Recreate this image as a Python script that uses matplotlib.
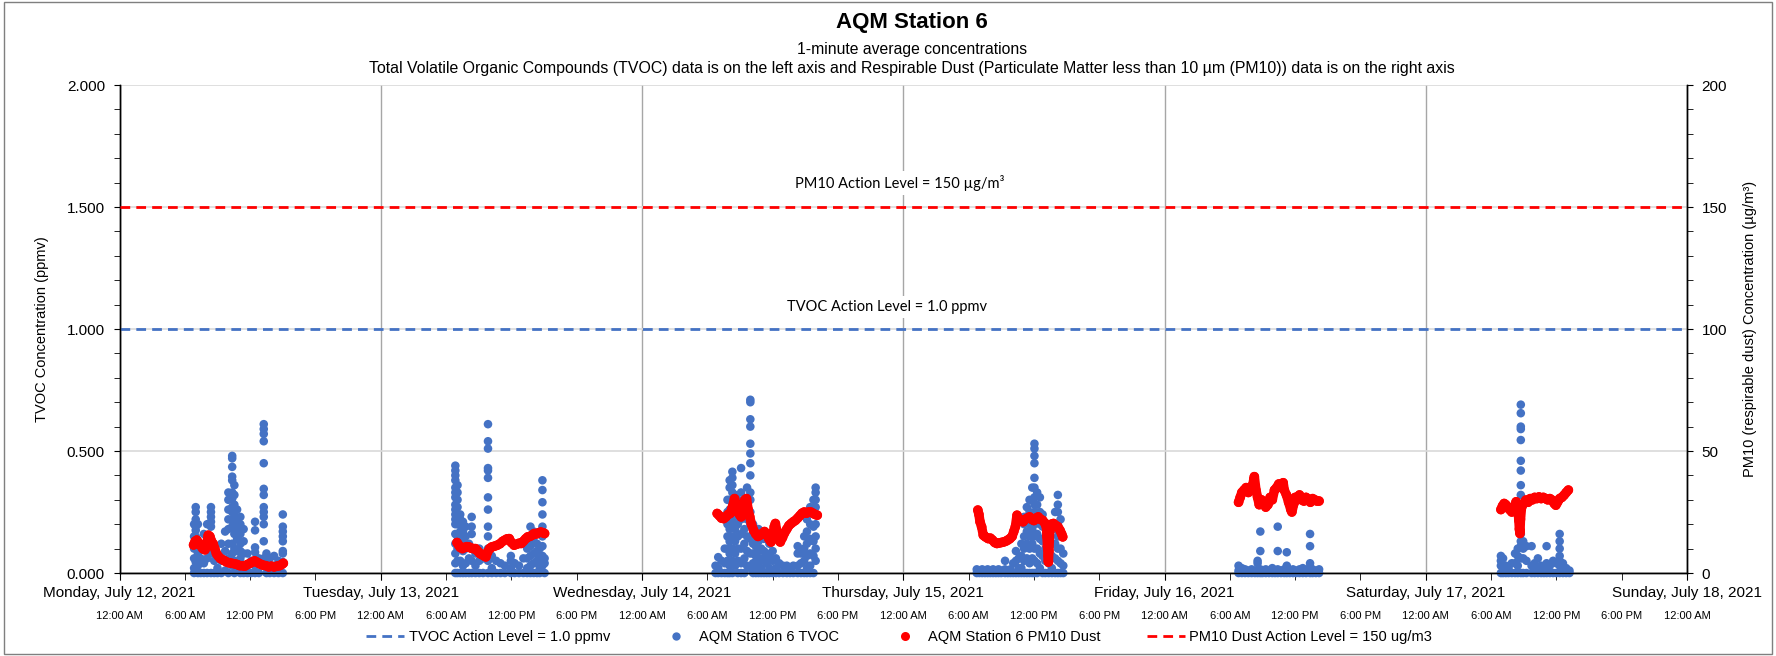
import matplotlib.pyplot as plt
from matplotlib.lines import Line2D
from matplotlib.patches import Rectangle
from matplotlib.ticker import MultipleLocator

plt.rcParams['font.family'] = ['Liberation Sans', 'DejaVu Sans']

day_names = ["Monday, July 12, 2021", "Tuesday, July 13, 2021", "Wednesday, July 14, 2021",
             "Thursday, July 15, 2021", "Friday, July 16, 2021", "Saturday, July 17, 2021",
             "Sunday, July 18, 2021"]
time_labels = ["12:00 AM", "6:00 AM", "12:00 PM", "6:00 PM"]

# TVOC (ppmv): (hour of day, readings around that time)
mon_tvoc = [
    (6.85, [0.2, 0.15, 0.1, 0.06, 0.02, 0.0]),
    (7.0, [0.27, 0.25, 0.22, 0.19, 0.175, 0.15, 0.11, 0.045, 0.01]),
    (7.2, [0.2, 0.13, 0.08, 0.03, 0.0]),
    (7.45, [0.12, 0.06, 0.0]),
    (7.75, [0.16, 0.1, 0.04, 0.0]),
    (8.05, [0.2, 0.12, 0.06, 0.0]),
    (8.4, [0.27, 0.25, 0.23, 0.21, 0.19, 0.14, 0.08, 0.0]),
    (8.7, [0.1, 0.05, 0.0]),
    (9.0, [0.07, 0.02, 0.0]),
    (9.35, [0.12, 0.05, 0.0]),
    (9.7, [0.17, 0.09, 0.01]),
    (10.0, [0.33, 0.3, 0.26, 0.22, 0.18, 0.12, 0.06, 0.0]),
    (10.35, [0.48, 0.47, 0.435, 0.395, 0.38, 0.33, 0.305, 0.27, 0.25, 0.215, 0.19, 0.12, 0.08, 0.03]),
    (10.55, [0.36, 0.32, 0.28, 0.24, 0.2, 0.16, 0.1, 0.05, 0.0]),
    (10.8, [0.26, 0.22, 0.18, 0.14, 0.09, 0.03]),
    (11.1, [0.23, 0.2, 0.16, 0.12, 0.09, 0.06, 0.0]),
    (11.4, [0.18, 0.13, 0.08, 0.0]),
    (11.75, [0.08, 0.03, 0.0]),
    (12.1, [0.05, 0.0]),
    (12.45, [0.21, 0.175, 0.105, 0.085, 0.03, 0.0]),
    (12.8, [0.06, 0.0]),
    (13.25, [0.61, 0.59, 0.57, 0.54, 0.45, 0.345, 0.32, 0.27, 0.25, 0.23, 0.2, 0.13, 0.06]),
    (13.5, [0.08, 0.04, 0.0]),
    (13.8, [0.06, 0.02, 0.0]),
    (14.2, [0.07, 0.03, 0.0]),
    (14.6, [0.05, 0.0]),
    (15.0, [0.24, 0.19, 0.17, 0.15, 0.13, 0.09, 0.08, 0.045, 0.0]),
]
tue_tvoc = [
    (6.85, [0.44, 0.42, 0.4, 0.38, 0.35, 0.33, 0.31, 0.28, 0.26, 0.24, 0.22, 0.2, 0.16, 0.12, 0.08, 0.04, 0.0]),
    (7.05, [0.36, 0.33, 0.3, 0.27, 0.24, 0.2, 0.15, 0.1, 0.05, 0.0]),
    (7.3, [0.24, 0.22, 0.2, 0.17, 0.14, 0.1, 0.05, 0.0]),
    (7.55, [0.21, 0.17, 0.14, 0.09, 0.03, 0.0]),
    (7.8, [0.19, 0.15, 0.1, 0.04, 0.0]),
    (8.1, [0.12, 0.06, 0.0]),
    (8.35, [0.23, 0.19, 0.16, 0.1, 0.05, 0.0]),
    (8.7, [0.08, 0.03, 0.0]),
    (9.05, [0.1, 0.05, 0.0]),
    (9.4, [0.06, 0.0]),
    (9.85, [0.61, 0.54, 0.51, 0.43, 0.42, 0.39, 0.31, 0.26, 0.19, 0.15, 0.1, 0.05, 0.0]),
    (10.2, [0.07, 0.02, 0.0]),
    (10.6, [0.05, 0.0]),
    (11.0, [0.04, 0.0]),
    (11.4, [0.03, 0.0]),
    (11.95, [0.07, 0.05, 0.02, 0.0]),
    (12.3, [0.04, 0.0]),
    (12.7, [0.03, 0.0]),
    (13.1, [0.06, 0.0]),
    (13.45, [0.13, 0.1, 0.06, 0.02, 0.0]),
    (13.75, [0.19, 0.15, 0.11, 0.07, 0.03, 0.0]),
    (14.05, [0.17, 0.13, 0.08, 0.04, 0.0]),
    (14.35, [0.12, 0.09, 0.05, 0.0]),
    (14.6, [0.1, 0.06, 0.02, 0.0]),
    (14.85, [0.38, 0.34, 0.29, 0.24, 0.19, 0.15, 0.11, 0.07, 0.03]),
    (15.05, [0.06, 0.04, 0.0]),
]
wed_tvoc = [
    (6.75, [0.03, 0.0]),
    (7.0, [0.065, 0.02, 0.0]),
    (7.3, [0.05, 0.0]),
    (7.6, [0.1, 0.04, 0.0]),
    (7.85, [0.3, 0.25, 0.2, 0.15, 0.1, 0.05, 0.0]),
    (8.05, [0.38, 0.35, 0.3, 0.26, 0.22, 0.18, 0.13, 0.08, 0.03, 0.0]),
    (8.3, [0.415, 0.39, 0.36, 0.33, 0.28, 0.24, 0.2, 0.15, 0.1, 0.05, 0.0]),
    (8.55, [0.32, 0.28, 0.23, 0.18, 0.13, 0.08, 0.03]),
    (8.8, [0.3, 0.25, 0.2, 0.15, 0.1, 0.05, 0.0]),
    (9.1, [0.43, 0.33, 0.28, 0.22, 0.16, 0.1, 0.04, 0.0]),
    (9.4, [0.25, 0.18, 0.12, 0.06, 0.0]),
    (9.65, [0.35, 0.3, 0.22, 0.15, 0.09, 0.03]),
    (9.95, [0.71, 0.70, 0.63, 0.60, 0.53, 0.49, 0.45, 0.40, 0.33, 0.3, 0.25, 0.2, 0.14, 0.08, 0.02]),
    (10.2, [0.2, 0.16, 0.12, 0.08, 0.04, 0.0]),
    (10.45, [0.15, 0.11, 0.07, 0.03, 0.0]),
    (10.7, [0.18, 0.13, 0.09, 0.05, 0.0]),
    (10.95, [0.1, 0.06, 0.02, 0.0]),
    (11.2, [0.14, 0.09, 0.05, 0.0]),
    (11.45, [0.08, 0.04, 0.0]),
    (11.7, [0.12, 0.07, 0.02, 0.0]),
    (12.0, [0.09, 0.05, 0.0]),
    (12.3, [0.06, 0.02, 0.0]),
    (12.6, [0.04, 0.0]),
    (12.95, [0.03, 0.0]),
    (13.3, [0.03, 0.0]),
    (13.6, [0.02, 0.0]),
    (13.9, [0.03, 0.0]),
    (14.3, [0.11, 0.08, 0.03, 0.0]),
    (14.6, [0.08, 0.04, 0.0]),
    (14.9, [0.15, 0.1, 0.05, 0.0]),
    (15.15, [0.22, 0.17, 0.12, 0.07, 0.02, 0.0]),
    (15.45, [0.27, 0.2, 0.14, 0.08, 0.03, 0.0]),
    (15.75, [0.3, 0.25, 0.19, 0.13, 0.07, 0.0]),
    (15.95, [0.35, 0.33, 0.3, 0.27, 0.24, 0.2, 0.15, 0.1, 0.05]),
]
thu_tvoc = [
    (6.75, [0.015, 0.0]), (7.0, [0.01, 0.0]), (7.25, [0.015, 0.0]), (7.5, [0.01, 0.0]),
    (7.75, [0.015, 0.0]), (8.0, [0.01, 0.0]), (8.25, [0.015, 0.0]), (8.5, [0.01, 0.0]),
    (8.75, [0.015, 0.0]), (9.0, [0.01, 0.0]), (9.35, [0.05, 0.015, 0.0]), (9.6, [0.01, 0.0]),
    (9.85, [0.015, 0.0]), (10.1, [0.04, 0.0]),
    (10.35, [0.09, 0.05, 0.0]),
    (10.6, [0.06, 0.02, 0.0]),
    (10.85, [0.12, 0.07, 0.02, 0.0]),
    (11.1, [0.23, 0.2, 0.15, 0.1, 0.05, 0.0]),
    (11.35, [0.27, 0.22, 0.17, 0.12, 0.06, 0.0]),
    (11.6, [0.3, 0.25, 0.2, 0.15, 0.1, 0.04, 0.0]),
    (11.85, [0.35, 0.3, 0.24, 0.18, 0.12, 0.06, 0.0]),
    (12.05, [0.53, 0.51, 0.48, 0.45, 0.39, 0.35, 0.31, 0.28, 0.25, 0.2, 0.15, 0.1, 0.05, 0.0]),
    (12.3, [0.33, 0.28, 0.22, 0.16, 0.1, 0.04, 0.0]),
    (12.55, [0.31, 0.25, 0.2, 0.14, 0.08, 0.02]),
    (12.8, [0.24, 0.19, 0.13, 0.07, 0.0]),
    (13.05, [0.2, 0.15, 0.1, 0.05, 0.0]),
    (13.35, [0.2, 0.15, 0.1, 0.04, 0.0]),
    (13.65, [0.12, 0.07, 0.02, 0.0]),
    (13.95, [0.25, 0.18, 0.12, 0.06, 0.0]),
    (14.2, [0.32, 0.28, 0.25, 0.2, 0.15, 0.1, 0.05, 0.0]),
    (14.45, [0.22, 0.16, 0.1, 0.04, 0.0]),
    (14.7, [0.08, 0.03, 0.0]),
]
fri_tvoc = [
    (6.8, [0.03, 0.01, 0.0]), (7.1, [0.02, 0.0]), (7.4, [0.015, 0.0]), (7.7, [0.01, 0.0]),
    (8.0, [0.015, 0.0]), (8.3, [0.01, 0.0]), (8.55, [0.05, 0.04, 0.0]),
    (8.8, [0.17, 0.09, 0.015, 0.0]), (9.0, [0.01, 0.0]), (9.3, [0.015, 0.0]), (9.6, [0.01, 0.0]),
    (9.9, [0.02, 0.0]), (10.15, [0.01, 0.0]), (10.4, [0.19, 0.09, 0.015, 0.0]), (10.7, [0.01, 0.0]),
    (11.0, [0.015, 0.0]), (11.23, [0.085, 0.03, 0.0]), (11.5, [0.01, 0.0]), (11.8, [0.015, 0.0]),
    (12.1, [0.01, 0.0]), (12.4, [0.015, 0.0]), (12.7, [0.02, 0.0]), (13.0, [0.01, 0.0]),
    (13.37, [0.16, 0.11, 0.04, 0.025, 0.0]), (13.6, [0.015, 0.0]), (13.9, [0.01, 0.0]),
    (14.2, [0.015, 0.0]),
]
sat_tvoc = [
    (6.9, [0.07, 0.05, 0.03, 0.0]), (7.1, [0.06, 0.02, 0.0]), (7.35, [0.03, 0.0]),
    (7.6, [0.02, 0.0]), (7.9, [0.04, 0.0]), (8.2, [0.08, 0.04, 0.0]),
    (8.45, [0.1, 0.07, 0.03, 0.0]),
    (8.73, [0.69, 0.655, 0.6, 0.59, 0.545, 0.46, 0.42, 0.36, 0.32, 0.27, 0.23, 0.16, 0.13, 0.11, 0.06, 0.0]),
    (8.95, [0.13, 0.1, 0.06, 0.0]), (9.25, [0.11, 0.05, 0.0]), (9.72, [0.11, 0.03, 0.0]),
    (10.0, [0.04, 0.0]), (10.3, [0.06, 0.02, 0.0]), (10.6, [0.03, 0.0]), (10.85, [0.02, 0.0]),
    (11.1, [0.11, 0.04, 0.0]), (11.4, [0.03, 0.0]), (11.7, [0.05, 0.0]), (12.0, [0.04, 0.0]),
    (12.3, [0.16, 0.13, 0.1, 0.07, 0.05, 0.03, 0.0]), (12.6, [0.04, 0.0]),
    (12.9, [0.02, 0.0]), (13.2, [0.01, 0.0]),
]

# PM10 dust (ug/m3)
mon_pm_h = [6.8, 6.95, 7.1, 7.3, 7.5, 7.65, 7.85, 8.0, 8.15, 8.3, 8.45, 8.6, 8.75, 8.9, 9.05, 9.25,
            9.45, 9.65, 9.85, 10.05, 10.3, 10.55, 10.8, 11.05, 11.3, 11.5, 11.75, 12.0, 12.2, 12.4,
            12.6, 12.8, 13.0, 13.2, 13.45, 13.7, 13.95, 14.2, 14.45, 14.7, 14.9, 15.05]
mon_pm_v = [11.5, 13, 13.5, 12, 11, 10, 9.5, 12, 15.5, 15, 13, 12, 10, 8, 7, 6,
            5.5, 5, 4.5, 4.2, 4, 3.8, 3.5, 3, 3, 2.8, 3.5, 4, 4.5, 5,
            4.5, 4, 3.5, 3.2, 3, 2.5, 2.8, 2.5, 2.8, 3, 3.5, 4]
tue_pm_h = [7.0, 7.15, 7.3, 7.5, 7.7, 7.9, 8.1, 8.3, 8.5, 8.7, 8.9, 9.1, 9.3, 9.5, 9.65, 9.8,
            10.0, 10.2, 10.45, 10.7, 10.95, 11.2, 11.4, 11.6, 11.8, 12.0, 12.25, 12.5, 12.7, 12.9,
            13.1, 13.3, 13.5, 13.7, 13.9, 14.1, 14.3, 14.5, 14.7, 14.9, 15.05]
tue_pm_v = [12.5, 11.5, 10.5, 10, 10.5, 10.8, 10.7, 10.2, 10, 10, 9, 8, 7.5, 7, 6.6, 8.5,
            10, 10.7, 11, 11.4, 12, 13, 13.5, 14, 14.1, 12.5, 11.4, 11.8, 12.2, 12.1,
            13, 14, 14.8, 15, 15.5, 16.2, 16, 16.5, 16.8, 16.5, 16.2]
wed_pm_h = [6.9, 7.1, 7.3, 7.5, 7.7, 7.9, 8.1, 8.3, 8.5, 8.65, 8.8, 8.95, 9.1, 9.25, 9.45, 9.6,
            9.75, 9.9, 10.05, 10.25, 10.45, 10.65, 10.85, 11.05, 11.25, 11.45, 11.65, 11.85, 12.0,
            12.15, 12.25, 12.4, 12.55, 12.7, 12.9, 13.1, 13.3, 13.5, 13.7, 13.9, 14.1, 14.3, 14.5,
            14.7, 14.9, 15.1, 15.3, 15.5, 15.7, 15.9, 16.1]
wed_pm_v = [24.4, 23.5, 22.5, 22.3, 23, 24, 24.4, 27, 30.5, 28, 25, 24, 23, 25, 30, 30.5,
            26, 23, 20, 17.5, 16, 15, 15.5, 16.2, 17, 16, 14, 12.7, 15,
            19, 20.3, 17, 14, 12.7, 14.5, 16.5, 18, 19.5, 20.3, 21, 21.6, 22.5, 23.5,
            24.5, 25, 24.5, 25, 25, 24.5, 24, 23.7]
thu_pm_h = [6.85, 6.95, 7.05, 7.2, 7.35, 7.55, 7.8, 8.0, 8.2, 8.4, 8.6, 8.8, 9.0, 9.2, 9.4, 9.6,
            9.8, 10.0, 10.15, 10.3, 10.45, 10.6, 10.8, 11.0, 11.2, 11.4, 11.6, 11.8, 12.0, 12.2,
            12.4, 12.6, 12.8, 13.0, 13.15, 13.2, 13.25, 13.3, 13.33, 13.38, 13.45, 13.6, 13.8,
            14.0, 14.2, 14.4, 14.55, 14.65]
thu_pm_v = [25.8, 24, 21, 18.9, 15.5, 14.8, 14.1, 14.3, 13.5, 12.5, 12.1, 12.3, 12.5, 12.7, 13, 13.5,
            14.1, 15, 17, 19, 23.7, 22, 21.6, 21, 22, 22.5, 23, 22, 21.5, 22.5,
            23, 22, 21.6, 20.5, 18.9, 15, 11, 7, 4.5, 9, 17, 20, 20.3,
            19.5, 19, 17.5, 16, 14.8]
fri_pm_h = [6.8, 6.95, 7.1, 7.3, 7.5, 7.7, 7.9, 8.1, 8.25, 8.4, 8.55, 8.7, 8.9, 9.1, 9.3, 9.5,
            9.7, 9.9, 10.1, 10.3, 10.5, 10.7, 10.9, 11.0, 11.2, 11.4, 11.6, 11.7, 11.85, 12.0,
            12.2, 12.4, 12.6, 12.8, 13.0, 13.2, 13.4, 13.6, 13.8, 14.0, 14.2]
fri_pm_v = [29, 31, 33, 34, 35, 33, 35, 36, 39.5, 34, 31, 28, 30, 29, 27, 28,
            31, 30, 34, 35, 36.5, 35, 37, 34, 32, 29, 26, 25, 28, 31,
            30, 32, 30, 29.5, 31, 30, 29, 30.5, 30, 29.5, 29.5]
sat_pm_h = [6.9, 7.05, 7.2, 7.35, 7.5, 7.7, 7.9, 8.1, 8.3, 8.45, 8.55, 8.6, 8.65, 8.7, 8.8, 9.0,
            9.2, 9.4, 9.6, 9.8, 10.0, 10.2, 10.4, 10.6, 10.8, 11.0, 11.2, 11.4, 11.6, 11.8, 11.95,
            12.1, 12.3, 12.5, 12.7, 12.9, 13.1]
sat_pm_v = [26, 27.5, 28.5, 28, 27, 26, 25, 27, 29.2, 27, 21.6, 18, 16.2, 22, 27, 28.5,
            29.9, 29, 30.5, 30, 31, 30.5, 31.2, 30.5, 31, 30.5, 30, 30.5, 29.9, 28.5, 27.8,
            29, 30.5, 31, 31.9, 33, 34]

tvoc_days = [mon_tvoc, tue_tvoc, wed_tvoc, thu_tvoc, fri_tvoc, sat_tvoc]
pm_days = [(mon_pm_h, mon_pm_v), (tue_pm_h, tue_pm_v), (wed_pm_h, wed_pm_v),
           (thu_pm_h, thu_pm_v), (fri_pm_h, fri_pm_v), (sat_pm_h, sat_pm_v)]

tvoc_action = 1.0
pm_action = 150

blue = '#4472C4'
red = '#FF0000'

# flatten into hours since Monday 00:00
tx, ty = [], []
for d, cols in enumerate(tvoc_days):
    for h, vals in cols:
        for v in vals:
            tx.append(d * 24 + h)
            ty.append(v)

fig = plt.figure(figsize=(17.76, 6.56), dpi=100)
ax = fig.add_axes([0.0673, 0.1265, 0.8826, 0.7439])
ax2 = ax.twinx()

ax.scatter(tx, ty, s=38, color=blue, edgecolors='none', zorder=3, clip_on=False)
ax.axhline(tvoc_action, color=blue, lw=2, ls=(0, (3.5, 2.2)), zorder=4)

for d, (hh, vv) in enumerate(pm_days):
    xs = [d * 24 + h for h in hh]
    ax2.plot(xs, vv, color=red, lw=6.8, solid_capstyle='round', solid_joinstyle='round', zorder=3)
    ax2.scatter(xs, vv, s=48, color=red, edgecolors='none', zorder=3)
ax2.axhline(pm_action, color=red, lw=2, ls=(0, (3.5, 2.2)), zorder=4)

ax.set_xlim(0, 144)
ax.set_ylim(0, 2)
ax2.set_ylim(0, 200)

ax.set_xticks(range(0, 145, 24))
ax.set_xticklabels(day_names)
ax.set_xticks(range(0, 145, 6), minor=True)
ax.set_xticklabels([time_labels[i % 4] for i in range(25)], minor=True)
ax.xaxis.remove_overlapping_locs = False
ax.tick_params(axis='x', which='major', labelsize=11, pad=4, length=5, color='black')
ax.tick_params(axis='x', which='minor', labelsize=8, pad=22, length=5, color='black')

ax.yaxis.set_major_locator(MultipleLocator(0.5))
ax.yaxis.set_minor_locator(MultipleLocator(0.1))
ax.yaxis.set_major_formatter(lambda v, p: f"{v:.3f}")
ax.tick_params(axis='y', which='both', labelsize=11, length=4.5, pad=6)
ax2.yaxis.set_major_locator(MultipleLocator(50))
ax2.yaxis.set_minor_locator(MultipleLocator(10))
ax2.tick_params(axis='y', which='both', labelsize=11, length=4.5, pad=6)

ax.set_axisbelow(True)
ax.yaxis.grid(True, which='major', color='#d9d9d9', lw=1.2)
ax.xaxis.grid(True, which='major', color='#a6a6a6', lw=1)
for a in (ax, ax2):
    a.spines['top'].set_visible(False)
    for s in ('left', 'right', 'bottom'):
        a.spines[s].set_color('black')
        a.spines[s].set_linewidth(1)

ann_font = ['Lato', 'DejaVu Sans']
ax.text(71.7, 1.598, "PM10 Action Level = 150 µg/m³", ha='center', va='center', fontsize=10.5,
        family=ann_font, zorder=5, bbox=dict(facecolor='white', edgecolor='none', pad=3))
ax.text(70.5, 1.09, "TVOC Action Level = 1.0 ppmv", ha='center', va='center', fontsize=10.5,
        family=ann_font, zorder=5, bbox=dict(facecolor='white', edgecolor='none', pad=3))

fig.text(0.0235, 0.4985, "TVOC Concentration (ppmv)", rotation=90, ha='center', va='center', fontsize=10.5)
fig.text(0.9854, 0.4985, "PM10 (respirable dust) Concentration (µg/m³)", rotation=90,
         ha='center', va='center', fontsize=10.5)

fig.text(0.5135, 0.965, "AQM Station 6", ha='center', va='center', fontsize=16, weight='bold')
fig.text(0.5135, 0.925, "1-minute average concentrations", ha='center', va='center', fontsize=11.3)
fig.text(0.5135, 0.896, "Total Volatile Organic Compounds (TVOC) data is on the left axis and Respirable Dust "
         "(Particulate Matter less than 10 µm (PM10)) data is on the right axis",
         ha='center', va='center', fontsize=11.4)

handles = [
    Line2D([], [], color=blue, lw=2, ls=(0, (3.5, 2.2))),
    Line2D([], [], color=blue, marker='o', ls='none', markersize=6, markeredgewidth=0),
    Line2D([], [], color=red, marker='o', ls='none', markersize=6.5, markeredgewidth=0),
    Line2D([], [], color=red, lw=2, ls=(0, (3.5, 2.2))),
]
labels = ["TVOC Action Level = 1.0 ppmv", "AQM Station 6 TVOC", "AQM Station 6 PM10 Dust",
          "PM10 Dust Action Level = 150 ug/m3"]
fig.legend(handles, labels, loc='center', bbox_to_anchor=(0.5064, 0.029), ncol=4, frameon=False,
           fontsize=10.5, handlelength=2.6, handletextpad=0.3, columnspacing=3.2)

fig.add_artist(Rectangle((0.002, 0.003), 0.996, 0.994, transform=fig.transFigure, fill=False,
                         edgecolor='#7f7f7f', lw=1))

fig.savefig('out.png', dpi=100)
